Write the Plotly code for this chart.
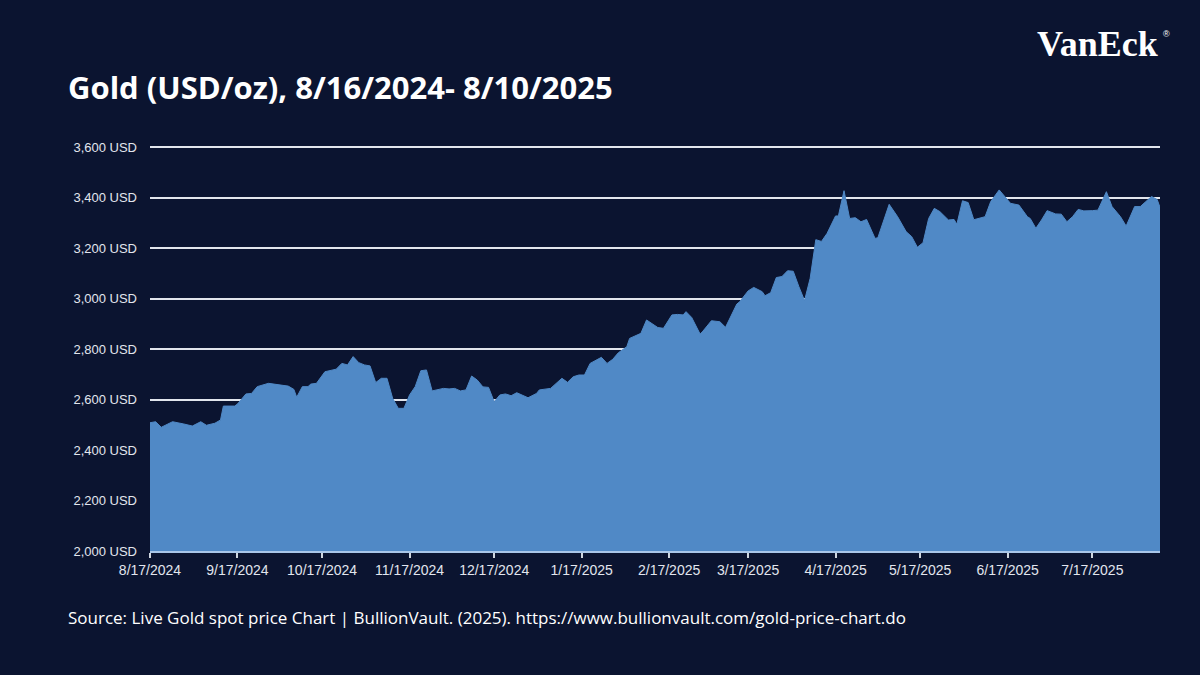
import plotly.graph_objects as go

# Gold spot price (USD/oz)
dates = [
    "2024-08-17", "2024-08-19", "2024-08-21", "2024-08-25", "2024-08-29", "2024-09-01",
    "2024-09-04", "2024-09-06", "2024-09-09", "2024-09-11", "2024-09-12", "2024-09-16",
    "2024-09-17", "2024-09-20", "2024-09-22", "2024-09-24", "2024-09-28", "2024-10-05",
    "2024-10-07", "2024-10-08", "2024-10-10", "2024-10-12", "2024-10-13", "2024-10-15",
    "2024-10-18", "2024-10-22", "2024-10-24", "2024-10-26", "2024-10-28", "2024-10-30",
    "2024-11-01", "2024-11-03", "2024-11-05", "2024-11-07", "2024-11-09", "2024-11-11",
    "2024-11-13", "2024-11-15", "2024-11-17", "2024-11-19", "2024-11-21", "2024-11-23",
    "2024-11-25", "2024-11-27", "2024-11-29", "2024-12-01", "2024-12-03", "2024-12-05",
    "2024-12-07", "2024-12-09", "2024-12-11", "2024-12-13", "2024-12-15", "2024-12-17",
    "2024-12-19", "2024-12-21", "2024-12-23", "2024-12-25", "2024-12-27", "2024-12-29",
    "2025-01-01", "2025-01-02", "2025-01-06", "2025-01-08", "2025-01-10", "2025-01-12",
    "2025-01-14", "2025-01-16", "2025-01-18", "2025-01-20", "2025-01-22", "2025-01-24",
    "2025-01-26", "2025-01-28", "2025-01-30", "2025-02-02", "2025-02-03", "2025-02-06",
    "2025-02-07", "2025-02-09", "2025-02-11", "2025-02-13", "2025-02-15", "2025-02-18",
    "2025-02-20", "2025-02-22", "2025-02-23", "2025-02-25", "2025-02-28", "2025-03-01",
    "2025-03-04", "2025-03-07", "2025-03-09", "2025-03-13", "2025-03-14", "2025-03-17",
    "2025-03-19", "2025-03-22", "2025-03-23", "2025-03-25", "2025-03-27", "2025-03-29",
    "2025-03-31", "2025-04-02", "2025-04-04", "2025-04-06", "2025-04-08", "2025-04-10",
    "2025-04-12", "2025-04-14", "2025-04-17", "2025-04-18", "2025-04-20", "2025-04-22",
    "2025-04-24", "2025-04-26", "2025-04-28", "2025-05-01", "2025-05-02", "2025-05-05",
    "2025-05-06", "2025-05-09", "2025-05-12", "2025-05-14", "2025-05-16", "2025-05-18",
    "2025-05-20", "2025-05-22", "2025-05-24", "2025-05-27", "2025-05-29", "2025-05-30",
    "2025-06-01", "2025-06-03", "2025-06-05", "2025-06-09", "2025-06-11", "2025-06-14",
    "2025-06-16", "2025-06-18", "2025-06-21", "2025-06-24", "2025-06-25", "2025-06-27",
    "2025-06-29", "2025-07-01", "2025-07-04", "2025-07-06", "2025-07-08", "2025-07-10",
    "2025-07-12", "2025-07-14", "2025-07-17", "2025-07-19", "2025-07-22", "2025-07-24",
    "2025-07-27", "2025-07-29", "2025-08-01", "2025-08-03", "2025-08-05", "2025-08-07",
    "2025-08-09", "2025-08-10",
]

prices = [
    2508, 2512, 2490, 2512, 2503, 2495,
    2512, 2498, 2506, 2519, 2574, 2574,
    2582, 2622, 2624, 2651, 2664, 2653,
    2640, 2609, 2651, 2651, 2661, 2664,
    2710, 2720, 2743, 2737, 2770, 2746,
    2737, 2733, 2667, 2684, 2684, 2605,
    2565, 2565, 2618, 2651, 2714, 2717,
    2634, 2638, 2644, 2642, 2644, 2634,
    2638, 2693, 2677, 2650, 2648, 2591,
    2618, 2622, 2615, 2627, 2618, 2607,
    2624, 2638, 2644, 2664, 2684, 2668,
    2690, 2697, 2697, 2743, 2756, 2767,
    2743, 2759, 2785, 2809, 2842, 2855,
    2862, 2915, 2901, 2885, 2882, 2935,
    2937, 2935, 2948, 2925, 2859, 2871,
    2912, 2908, 2886, 2978, 2987, 3030,
    3044, 3027, 3011, 3023, 3083, 3087,
    3110, 3108, 3047, 2992, 3080, 3233,
    3226, 3258, 3327, 3327, 3427, 3317,
    3320, 3304, 3313, 3238, 3241, 3337,
    3373, 3324, 3265, 3245, 3203, 3221,
    3317, 3357, 3344, 3311, 3313, 3294,
    3387, 3380, 3312, 3324, 3384, 3430,
    3404, 3377, 3370, 3324, 3317, 3278,
    3311, 3348, 3335, 3334, 3304, 3324,
    3353, 3347, 3348, 3350, 3423, 3364,
    3324, 3287, 3364, 3364, 3384, 3404,
    3392, 3361,
]

x_tick_dates = [
    "2024-08-17", "2024-09-17", "2024-10-17", "2024-11-17", "2024-12-17", "2025-01-17",
    "2025-02-17", "2025-03-17", "2025-04-17", "2025-05-17", "2025-06-17", "2025-07-17",
]
x_tick_labels = [
    "8/17/2024", "9/17/2024", "10/17/2024", "11/17/2024", "12/17/2024", "1/17/2025",
    "2/17/2025", "3/17/2025", "4/17/2025", "5/17/2025", "6/17/2025", "7/17/2025",
]
y_tick_vals = [2000, 2200, 2400, 2600, 2800, 3000, 3200, 3400, 3600]
y_tick_labels = [f"{v:,} USD" for v in y_tick_vals]

BG = "#0b1430"
FILL = "#5089c6"
GRID = "#e2e5ec"
TXT = "#e2e6ee"

fig = go.Figure()
fig.add_trace(go.Scatter(
    x=dates, y=prices, mode="lines", fill="tozeroy",
    line=dict(color=FILL, width=1), fillcolor=FILL,
    hoverinfo="skip", showlegend=False,
))

fig.update_layout(
    width=1200, height=675,
    paper_bgcolor=BG, plot_bgcolor=BG,
    margin=dict(l=150, r=40, t=146, b=124),
    showlegend=False,
    xaxis=dict(
        type="date",
        range=["2024-08-17", "2025-08-10"],
        tickmode="array", tickvals=x_tick_dates, ticktext=x_tick_labels,
        showgrid=False, zeroline=False,
        showline=True, linecolor="#a9c6e8", linewidth=1.5,
        ticks="outside", ticklen=5, tickwidth=1.5, tickcolor="#cfd5de",
        tickfont=dict(family="Liberation Sans, Arial, sans-serif", size=14, color=TXT),
    ),
    yaxis=dict(
        range=[2000, 3604],
        tickmode="array", tickvals=y_tick_vals, ticktext=y_tick_labels,
        showgrid=True, gridcolor=GRID, gridwidth=1.5,
        zeroline=False, showline=False, ticks="",
        ticklabelstandoff=12,
        tickfont=dict(family="Liberation Sans, Arial, sans-serif", size=13, color=TXT),
    ),
    font=dict(family="Open Sans, sans-serif", color="white"),
)

fig.add_annotation(
    text="<b>Gold (USD/oz), 8/16/2024- 8/10/2025</b>",
    xref="paper", yref="paper", x=0, y=1,
    xanchor="left", yanchor="middle",
    xshift=-84, yshift=59,
    showarrow=False,
    font=dict(family="Open Sans, sans-serif", size=31, color="white"),
)

fig.add_annotation(
    text="Source: Live Gold spot price Chart | BullionVault. (2025). https://www.bullionvault.com/gold-price-chart.do",
    xref="paper", yref="paper", x=0, y=0,
    xanchor="left", yanchor="middle",
    xshift=-84, yshift=-66,
    showarrow=False,
    font=dict(family="Open Sans, sans-serif", size=17, color="white"),
)

fig.add_annotation(
    text="<b>VanEck</b>",
    xref="paper", yref="paper", x=1, y=1,
    xanchor="right", yanchor="middle",
    xshift=0, yshift=102,
    showarrow=False,
    font=dict(family="Liberation Serif, DejaVu Serif, serif", size=36, color="white"),
)
fig.add_annotation(
    text="®",
    xref="paper", yref="paper", x=1, y=1,
    xanchor="left", yanchor="middle",
    xshift=1, yshift=112,
    showarrow=False,
    font=dict(family="Liberation Sans, sans-serif", size=9, color="white"),
)

fig.write_html("out.html")
